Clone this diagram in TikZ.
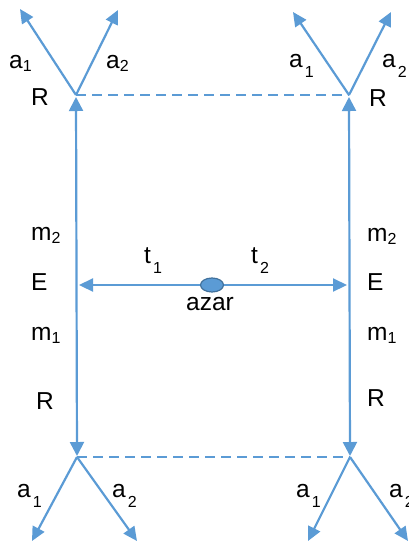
\documentclass[tikz,border=0pt]{standalone}
\usepackage{fontspec}
\setmainfont{Liberation Sans}
\usetikzlibrary{arrows.meta, shapes.geometric}
\definecolor{lineblue}{RGB}{91,155,213}
\definecolor{dotedge}{RGB}{65,113,156}
\newcommand{\lsub}[1]{\raisebox{-3pt}{\fontsize{16}{16}\selectfont #1}}
\newcommand{\dropsub}[1]{\kern2pt\raisebox{-10pt}{\fontsize{16}{16}\selectfont #1}}

\begin{document}
\begin{tikzpicture}[
    x=1pt, y=-1pt,
    lbl/.style={font=\fontsize{24.5}{28}\selectfont, inner sep=0pt, anchor=base west},
    arr/.style={-{Triangle[length=14pt, width=13pt]}, lineblue, line width=2.2pt},
    darr/.style={{Triangle[length=14pt, width=14pt]}-{Triangle[length=14pt, width=14pt]},
                 lineblue, line width=2.2pt},
    link/.style={lineblue, line width=2pt, dash pattern=on 10pt off 6pt},
    dot/.style={ellipse, draw=dotedge, fill=lineblue, line width=1.2pt,
                minimum width=23pt, minimum height=14pt, inner sep=0pt}
]
  \useasboundingbox (0,0) rectangle (409,542);

  % corners of the frame
  \coordinate (tl) at (76,95);
  \coordinate (tr) at (349,95);
  \coordinate (bl) at (77,457);
  \coordinate (br) at (350,457);

  % free ends of the branches
  \coordinate (tl1) at (20,9);
  \coordinate (tl2) at (118,10);
  \coordinate (tr1) at (293,12);
  \coordinate (tr2) at (391,12);
  \coordinate (bl1) at (32,541);
  \coordinate (bl2) at (137,541);
  \coordinate (br1) at (308,541);
  \coordinate (br2) at (408,541);

  \draw[link] (tl) -- (tr);
  \draw[link] (bl) -- (br);
  \draw[darr, shorten <=2pt, shorten >=1pt] (tl) -- (bl);
  \draw[darr, shorten <=2pt, shorten >=1pt] (tr) -- (br);

  \draw[arr] (tl) -- (tl1);
  \draw[arr] (tl) -- (tl2);
  \draw[arr] (tr) -- (tr1);
  \draw[arr] (tr) -- (tr2);
  \draw[arr] (bl) -- (bl1);
  \draw[arr] (bl) -- (bl2);
  \draw[arr] (br) -- (br1);
  \draw[arr] (br) -- (br2);

  % chance node in the middle
  \node[dot] (azar) at (212,285) {};
  \draw[arr, shorten >=3pt] (azar.west) -- (azar.west -| tl);
  \draw[arr, shorten >=2pt] (azar.east) -- (azar.east -| tr);

  \node[lbl] (t1)   at (144,263) {t\dropsub{1}};
  \node[lbl] (t2)   at (251,263) {t\dropsub{2}};
  \node[lbl] (azarlbl) at (186,310) {azar};

  % labels of the branches
  \node[lbl] (tla1) at (9,68)    {a\lsub{1}};
  \node[lbl] (tla2) at (106,68)  {a\lsub{2}};
  \node[lbl] (tlr)  at (31,105)  {R};
  \node[lbl] (tra1) at (289,67)  {a\dropsub{1}};
  \node[lbl] (tra2) at (382,67)  {a\dropsub{2}};
  \node[lbl] (trr)  at (369,106) {R};
  \node[lbl] (bla1) at (17,497)  {a\dropsub{1}};
  \node[lbl] (bla2) at (112,497) {a\dropsub{2}};
  \node[lbl] (bra1) at (296,497) {a\dropsub{1}};
  \node[lbl] (bra2) at (389,497) {a\dropsub{2}};

  % labels along the sides
  \node[lbl] (lm2) at (31,240)  {m\lsub{2}};
  \node[lbl] (le)  at (31,290)  {E};
  \node[lbl] (lm1) at (31,340)  {m\lsub{1}};
  \node[lbl] (lr)  at (36,409)  {R};
  \node[lbl] (rm2) at (367,241) {m\lsub{2}};
  \node[lbl] (re)  at (367,290) {E};
  \node[lbl] (rm1) at (367,340) {m\lsub{1}};
  \node[lbl] (rr)  at (367,406) {R};
\end{tikzpicture}
\end{document}
